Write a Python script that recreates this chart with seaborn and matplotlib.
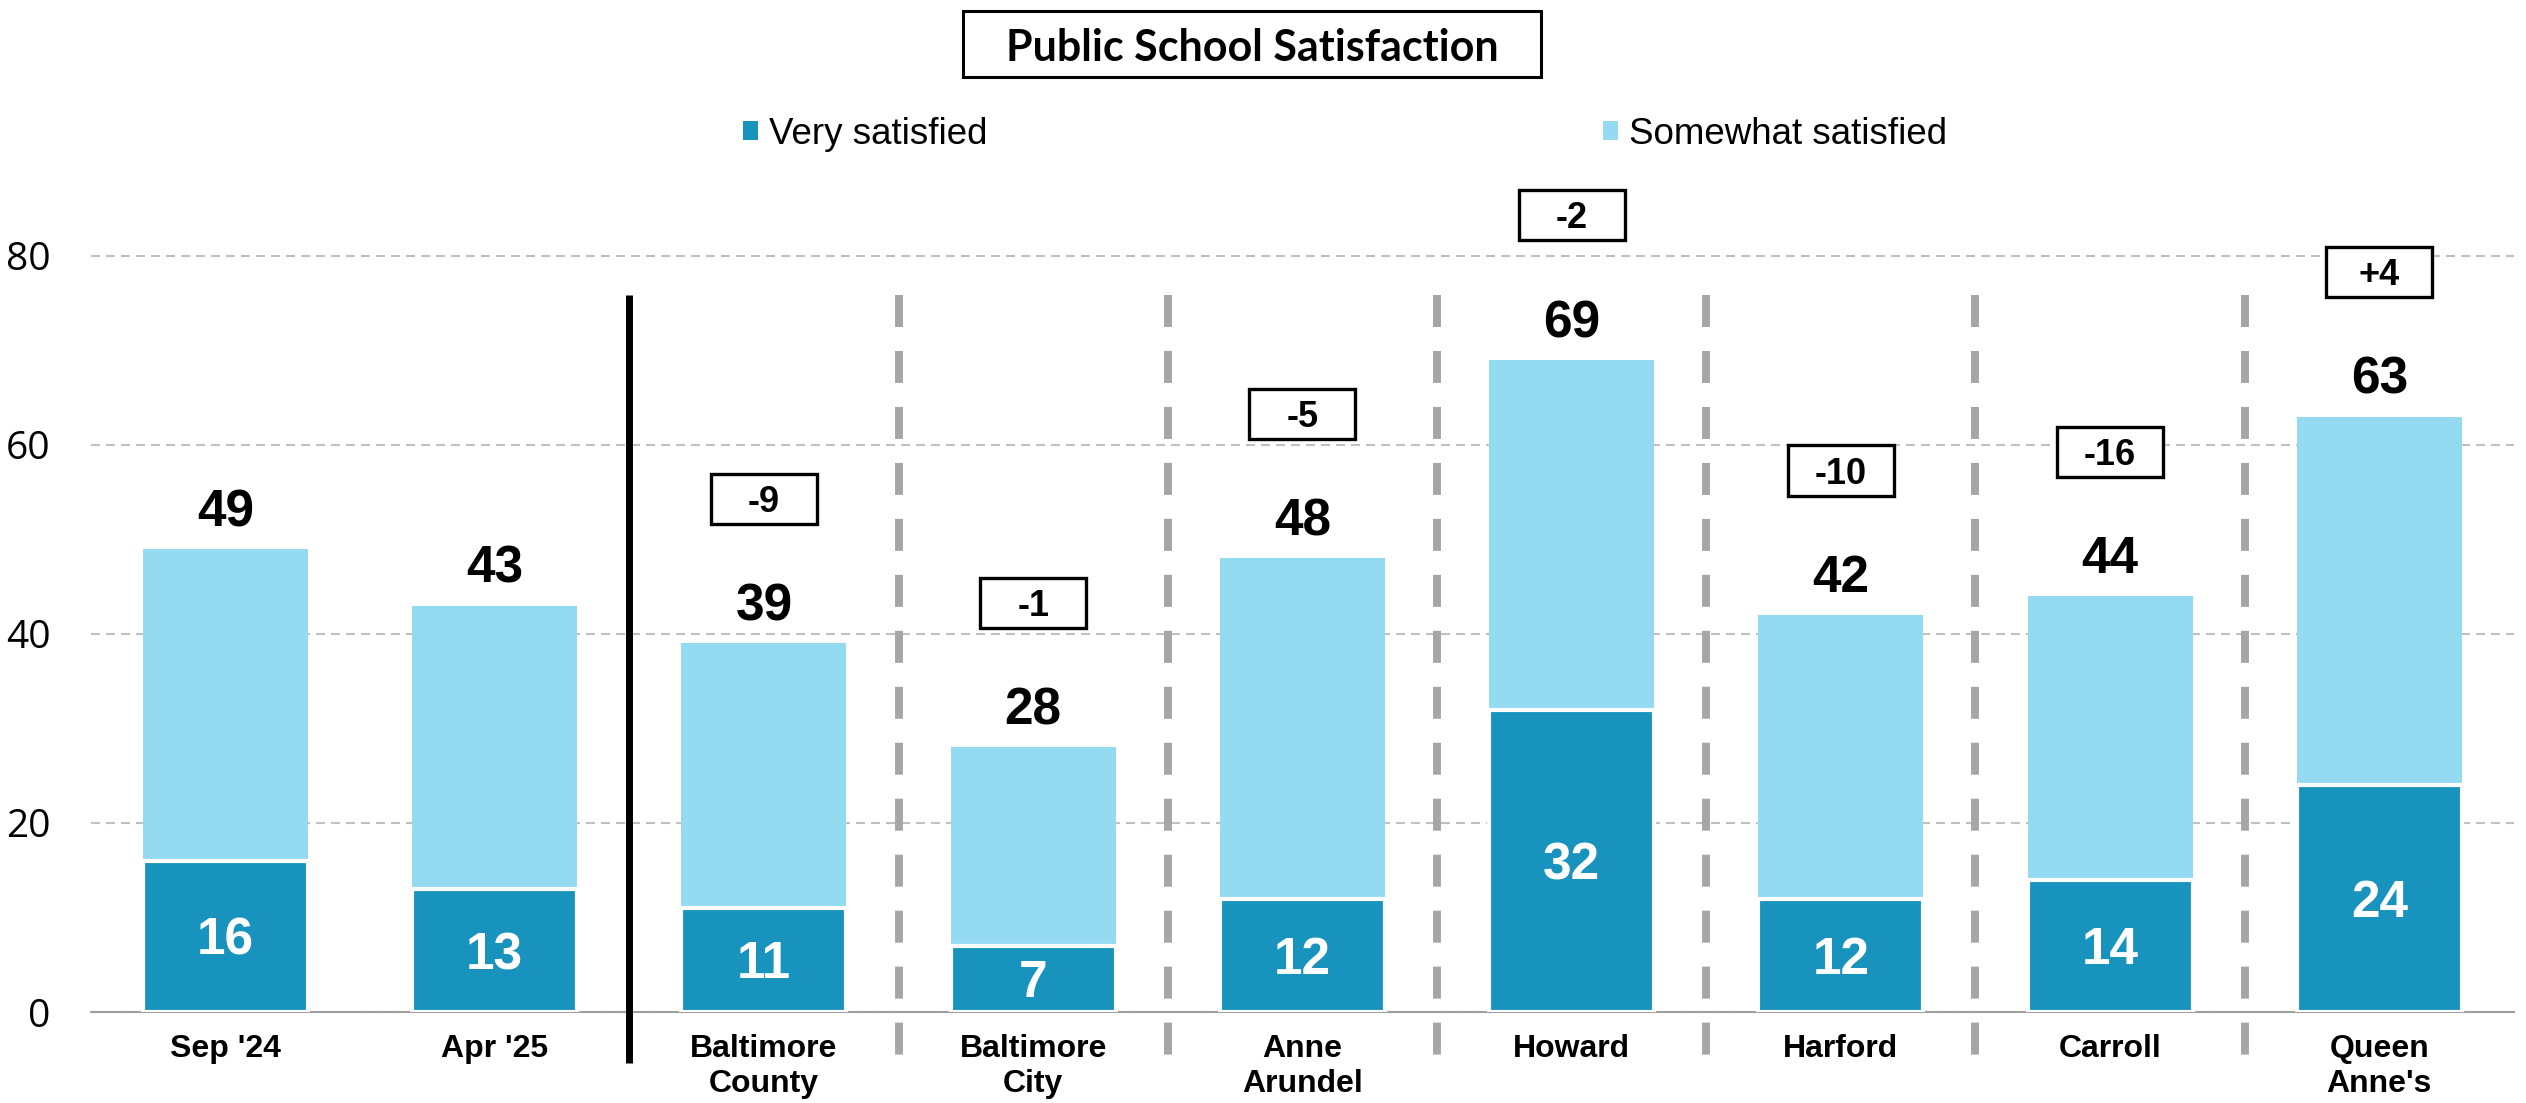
import matplotlib
matplotlib.use('Agg')
import matplotlib.pyplot as plt
from matplotlib.patches import Rectangle
import seaborn as sns

# data
categories = ["Sep '24", "Apr '25", "Baltimore\nCounty", "Baltimore\nCity", "Anne\nArundel",
              "Howard", "Harford", "Carroll", "Queen\nAnne's"]
very_satisfied = [16, 13, 11, 7, 12, 32, 12, 14, 24]
total_satisfied = [49, 43, 39, 28, 48, 69, 42, 44, 63]
change = [None, None, "-9", "-1", "-5", "-2", "-10", "-16", "+4"]

dark = '#1793BE'
light = '#94DBF2'

sns.set_theme(style='white')
plt.rcParams['font.family'] = ['Liberation Sans', 'DejaVu Sans']
plt.rcParams['text.color'] = 'black'
plt.rcParams['xtick.color'] = 'black'
plt.rcParams['ytick.color'] = 'black'
plt.rcParams['axes.labelcolor'] = 'black'

fig = plt.figure(figsize=(25.26, 11.03), dpi=100)
ax = fig.add_axes([0.036, 0.0825, 0.9592, 0.7711])

# light bar = total, dark bar drawn over it = very satisfied
sns.barplot(x=categories, y=total_satisfied, color=light, saturation=1, width=0.613,
            linewidth=0, label='Somewhat satisfied', ax=ax, zorder=2)
sns.barplot(x=categories, y=very_satisfied, color=dark, saturation=1, width=0.613,
            edgecolor='white', linewidth=3, label='Very satisfied', ax=ax, zorder=3)
if ax.get_legend() is not None:
    ax.get_legend().remove()

ax.set_xlim(-0.5, 8.5)
ax.set_ylim(0, 90)
ax.set_yticks([0, 20, 40, 60, 80])
ax.set_xlabel('')
ax.set_ylabel('')

# grid
ax.set_axisbelow(True)
ax.yaxis.grid(True, color='#C0C0C0', linewidth=1.5, dashes=(4.3, 2.9))
ax.xaxis.grid(False)

for s in ['top', 'right', 'left']:
    ax.spines[s].set_visible(False)
ax.spines['bottom'].set_color('#A0A0A0')
ax.spines['bottom'].set_linewidth(1.5)

ax.tick_params(axis='y', length=0, pad=29, labelsize=28, labelcolor='black')
for lab in ax.get_yticklabels():
    lab.set_family(['Open Sans', 'DejaVu Sans'])
ax.tick_params(axis='x', which='major', length=0, pad=16, labelsize=23, labelcolor='black')
for lab in ax.get_xticklabels():
    lab.set_fontweight('bold')
ax.set_xticks([i - 0.5 for i in range(len(categories) + 1)], minor=True)
ax.tick_params(axis='x', which='minor', length=6.5, width=1.5, color='#A0A0A0', direction='out')

# value labels
for i, (v, t) in enumerate(zip(very_satisfied, total_satisfied)):
    ax.annotate(str(t), (i, t), xytext=(0, 16.5), textcoords='offset points',
                ha='center', va='baseline', fontsize=37, fontweight='bold', color='black')
    ax.annotate(str(v), (i, v / 2), xytext=(0, -13.3), textcoords='offset points',
                ha='center', va='baseline', fontsize=37, fontweight='bold', color='white', zorder=5)

# change boxes
for i, c in enumerate(change):
    if c is None:
        continue
    yc = total_satisfied[i] + 15.3
    ax.add_patch(Rectangle((i - 0.197, yc - 2.65), 0.394, 5.3, facecolor='white',
                           edgecolor='black', linewidth=2.4, clip_on=False, zorder=6))
    ax.annotate(c, (i, yc), xytext=(0, -9.4), textcoords='offset points',
                ha='center', va='baseline', fontsize=26, fontweight='bold', color='black',
                zorder=7, annotation_clip=False)

# separators
ax.plot([1.5, 1.5], [75.9, -5.4], color='black', linewidth=5, solid_capstyle='butt',
        clip_on=False, zorder=4)
for x in [2.5, 3.5, 4.5, 5.5, 6.5, 7.5]:
    ax.plot([x, x], [75.9, -4.55], color='#A6A6A6', linewidth=5.7, dashes=(4.04, 3.03),
            dash_capstyle='butt', clip_on=False, zorder=4)

# legend
h, l = ax.get_legend_handles_labels()
order = [l.index('Very satisfied'), l.index('Somewhat satisfied')]
leg = fig.legend([h[k] for k in order], [l[k] for k in order], loc='center',
                 bbox_to_anchor=(0.5325, 0.878), ncol=2, frameon=False, fontsize=26.5,
                 handlelength=0.42, handleheight=0.42, handletextpad=0.3,
                 columnspacing=16.7, borderpad=0, labelcolor='black')
for hd in leg.legend_handles:
    hd.set_linewidth(0)

# title box
fig.patches.append(Rectangle((0.3812, 0.9302), 0.2288, 0.0598, transform=fig.transFigure,
                             facecolor='white', edgecolor='black', linewidth=2.2))
fig.text(0.4959, 0.9601, 'Public School Satisfaction', ha='center', va='center_baseline',
         fontsize=31, fontweight='bold', color='black',
         family=['Lato', 'Liberation Sans', 'DejaVu Sans'])

fig.savefig('out.png', dpi=100)
